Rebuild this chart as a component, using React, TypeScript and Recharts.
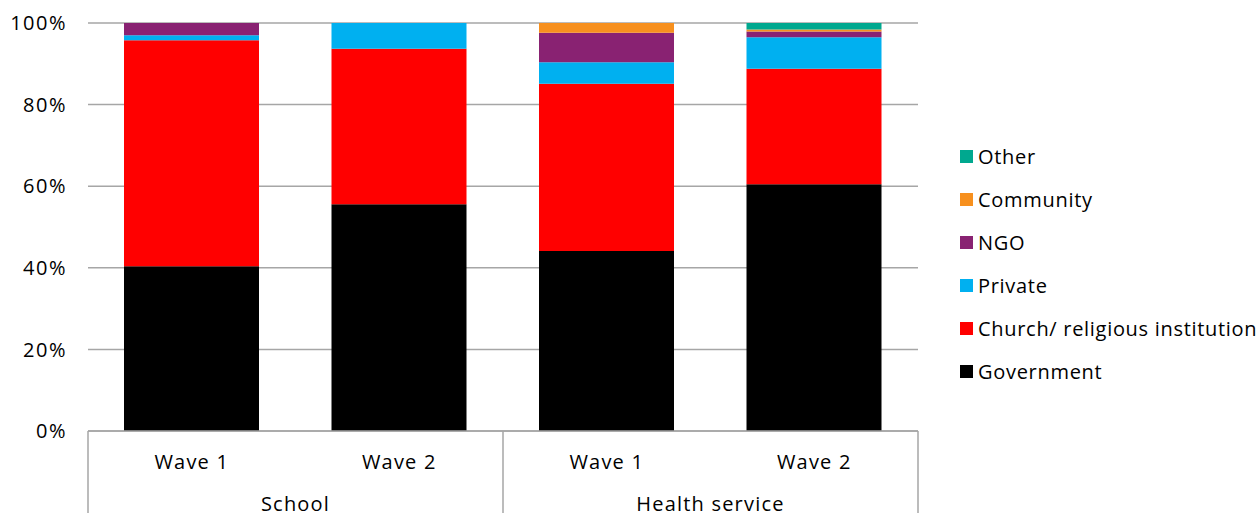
import React from "react";
import { BarChart, Bar, XAxis, YAxis, CartesianGrid, Legend } from "recharts";

const categories = ["Wave 1", "Wave 2", "Wave 1", "Wave 2"];
const groups = ["School", "School", "Health service", "Health service"];
const positions = [0.5, 1.5, 2.5, 3.5];

const government = [40.4, 55.6, 44.1, 60.5];
const church = [55.4, 38.1, 41.0, 28.3];
const privateVals = [1.2, 6.3, 5.3, 7.7];
const ngo = [3.0, 0, 7.2, 1.4];
const community = [0, 0, 2.4, 0.5];
const other = [0, 0, 0, 1.6];

const yTicks = [0, 20, 40, 60, 80, 100];
const groupTicks = [0, 1, 2, 3, 4];

const series = [
  { key: "government", name: "Government", values: government, color: "#000000" },
  { key: "church", name: "Church/ religious institution", values: church, color: "#FF0000" },
  { key: "private", name: "Private", values: privateVals, color: "#00B0F0" },
  { key: "ngo", name: "NGO", values: ngo, color: "#892272" },
  { key: "community", name: "Community", values: community, color: "#F7901E" },
  { key: "other", name: "Other", values: other, color: "#00A88F" },
];

const data = categories.map((c, i) => {
  const row: Record<string, any> = { wave: c, group: groups[i], pos: positions[i] };
  series.forEach((s) => (row[s.key] = s.values[i]));
  return row;
});

const FONT = "'Open Sans', 'Liberation Sans', sans-serif";
const FS = 20;
const GRID = "#A6A6A6";
const AXIS_LS = 1.2;

const WaveTick = (props: any) => {
  const { x, y, payload } = props;
  return (
    <text x={x} y={y + 30} textAnchor="middle" dominantBaseline="central" fontFamily={FONT} fontSize={FS} letterSpacing={AXIS_LS} fill="#000">
      {payload.value}
    </text>
  );
};

const GroupTick = (props: any) => {
  const { x, y, payload } = props;
  const v = payload.value;
  if (v % 2 === 0) {
    return <line x1={x} x2={x} y1={y - 40} y2={y + 42} stroke={GRID} strokeWidth={1.5} />;
  }
  const idx = Math.round(v - 1);
  return (
    <text x={x} y={y + 32} textAnchor="middle" dominantBaseline="central" fontFamily={FONT} fontSize={FS} letterSpacing={AXIS_LS} fill="#000">
      {groups[idx]}
    </text>
  );
};

const renderLegend = () => (
  <div style={{ fontFamily: FONT, fontSize: FS, color: "#000", letterSpacing: 0.7 }}>
    {[...series].reverse().map((s) => (
      <div key={s.key} style={{ height: 43, display: "flex", alignItems: "center", whiteSpace: "nowrap" }}>
        <span style={{ display: "inline-block", width: 13, height: 13, background: s.color, marginRight: 5 }} />
        <span>{s.name}</span>
      </div>
    ))}
  </div>
);

export default function App() {
  return (
    <div style={{ position: "absolute", left: 0, top: 0, width: 1260, height: 513, background: "#fff" }}>
      <BarChart
        width={1260}
        height={513}
        data={data}
        margin={{ top: 23, right: 342, left: 0, bottom: 0 }}
        barSize={135}
      >
        <CartesianGrid vertical={false} stroke={GRID} strokeWidth={1.5} />
        <YAxis
          type="number"
          domain={[0, 100]}
          ticks={yTicks}
          width={88}
          axisLine={false}
          tickLine={false}
          tickSize={0}
          tickMargin={21}
          tickFormatter={(v: number) => `${v}%`}
          tick={{ fontFamily: FONT, fontSize: FS, fill: "#000", letterSpacing: 1.5 }}
        />
        <XAxis
          dataKey="wave"
          allowDuplicatedCategory
          height={40}
          tickLine={false}
          tickSize={0}
          tickMargin={0}
          axisLine={{ stroke: GRID, strokeWidth: 1.5 }}
          tick={<WaveTick />}
          interval={0}
        />
        <XAxis
          xAxisId="grp"
          dataKey="pos"
          type="number"
          domain={[0, 4]}
          ticks={groupTicks}
          height={42}
          tickLine={false}
          tickSize={0}
          tickMargin={0}
          axisLine={false}
          tick={<GroupTick />}
          interval={0}
        />
        <Legend
          layout="vertical"
          align="center"
          verticalAlign="middle"
          content={renderLegend}
          wrapperStyle={{ left: 960, top: 135, width: 300 }}
        />
        {series.map((s) => (
          <Bar key={s.key} dataKey={s.key} name={s.name} stackId="a" fill={s.color} isAnimationActive={false} />
        ))}
      </BarChart>
    </div>
  );
}
